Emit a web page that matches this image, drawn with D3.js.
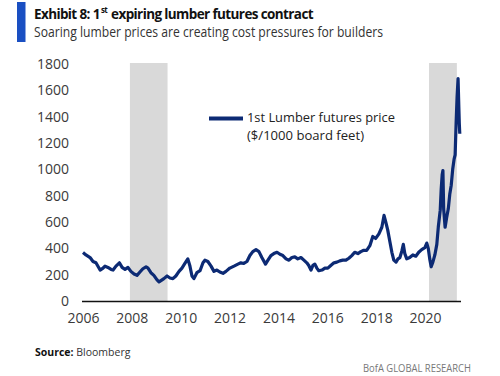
<!DOCTYPE html>
<html>
<head>
<meta charset="utf-8">
<script src="https://cdn.jsdelivr.net/npm/d3@7"></script>
<style>
  body { margin: 0; background: #fff; }
  text { font-family: "Open Sans", sans-serif; }
</style>
</head>
<body>
<div id="chart"></div>
<script>
/* DATA */
// decimal years, with 1st lumber futures price ($/1000 board feet)
const years = [
  2006.00, 2006.12, 2006.29, 2006.41, 2006.53, 2006.70, 2006.82, 2006.90, 2007.02, 2007.15,
  2007.23, 2007.35, 2007.49, 2007.60, 2007.72, 2007.84, 2007.96, 2008.09, 2008.21, 2008.33,
  2008.45, 2008.58, 2008.66, 2008.78, 2008.90, 2009.03, 2009.11, 2009.19, 2009.31, 2009.44,
  2009.56, 2009.68, 2009.80, 2009.93, 2010.05, 2010.17, 2010.29, 2010.37, 2010.46, 2010.54,
  2010.66, 2010.79, 2010.91, 2010.99, 2011.11, 2011.24, 2011.36, 2011.48, 2011.60, 2011.73,
  2011.85, 2012.01, 2012.18, 2012.34, 2012.46, 2012.58, 2012.71, 2012.83, 2012.95, 2013.08,
  2013.20, 2013.32, 2013.47, 2013.57, 2013.69, 2013.81, 2013.94, 2014.06, 2014.18, 2014.31,
  2014.43, 2014.55, 2014.67, 2014.79, 2014.92, 2015.04, 2015.16, 2015.24, 2015.33, 2015.41,
  2015.49, 2015.57, 2015.65, 2015.78, 2015.90, 2016.02, 2016.14, 2016.27, 2016.39, 2016.51,
  2016.63, 2016.76, 2016.88, 2017.00, 2017.12, 2017.25, 2017.37, 2017.49, 2017.61, 2017.74,
  2017.86, 2017.98, 2018.11, 2018.23, 2018.32, 2018.39, 2018.47, 2018.56, 2018.64, 2018.72,
  2018.81, 2018.89, 2018.97, 2019.05, 2019.11, 2019.17, 2019.25, 2019.37, 2019.50, 2019.62,
  2019.74, 2019.86, 2019.99, 2020.07, 2020.13, 2020.19, 2020.25, 2020.31, 2020.40, 2020.48,
  2020.54, 2020.62, 2020.66, 2020.70, 2020.73, 2020.76, 2020.82, 2020.88, 2020.95, 2021.01,
  2021.07, 2021.13, 2021.19, 2021.23, 2021.27, 2021.31, 2021.35, 2021.38, 2021.40, 2021.42
];
const prices = [
  368, 350, 330, 300, 290, 235, 250, 265, 255, 240,
  235, 265, 290, 255, 240, 255, 225, 205, 195, 220,
  245, 260, 250, 215, 195, 160, 145, 155, 170, 190,
  175, 170, 190, 225, 250, 285, 320, 270, 190, 170,
  215, 230, 290, 310, 300, 265, 225, 235, 220, 210,
  225, 250, 265, 280, 290, 285, 300, 345, 375, 390,
  375, 330, 280, 310, 345, 360, 370, 355, 345, 320,
  310, 330, 335, 320, 330, 310, 290, 270, 235, 270,
  280, 250, 230, 235, 250, 250, 270, 290, 295, 305,
  310, 310, 325, 345, 370, 360, 375, 385, 385, 420,
  490, 475, 510, 560, 650, 600, 540, 450, 370, 310,
  295, 320, 330, 380, 430, 360, 320, 330, 350, 340,
  370, 390, 405, 440, 400, 320, 260, 290, 350, 430,
  560, 690, 850, 960, 990, 700, 560, 630, 700, 810,
  880, 1000, 1080, 1110, 1350, 1550, 1690, 1480, 1350, 1270
];
// shaded periods (recession / pandemic)
const shadedStart = [2007.92, 2020.16];
const shadedEnd = [2009.46, 2021.30];
const xTicks = [2006, 2008, 2010, 2012, 2014, 2016, 2018, 2020];
const yTicks = [0, 200, 400, 600, 800, 1000, 1200, 1400, 1600, 1800];

const width = 500, height = 376;
const margin = { top: 64, bottom: 75, left: 83, right: 39 };

const data = years.map((y, i) => ({ year: y, price: prices[i] }));

const svg = d3.select("#chart").append("svg")
  .attr("width", width)
  .attr("height", height);

/* SCALES */
const xScale = d3.scaleLinear()
  .domain([2006, 2021.47])
  .range([margin.left, width - margin.right]);
const yScale = d3.scaleLinear()
  .domain([0, 1800])
  .range([height - margin.bottom, margin.top]);

/* HEADER */
svg.append("rect")
  .attr("x", 17).attr("y", 2)
  .attr("width", 8.5).attr("height", 40)
  .attr("fill", "#1a4fc2");

// title in three pieces so the superscript sits on its own; tightened with letter-spacing
const titleParts = [
  { t: "Exhibit 8: 1", size: 13.5, y: 19 },
  { t: "st", size: 8, y: 13 },
  { t: "expiring lumber futures contract", size: 13.5, y: 19 }
];
const gaps = [1, 4];
const titleTexts = titleParts.map(p => svg.append("text")
  .attr("y", p.y)
  .attr("font-size", p.size)
  .attr("font-weight", "bold")
  .attr("fill", "#111")
  .text(p.t));
const natural = titleTexts.map(t => t.node().getComputedTextLength());
const nChars = d3.sum(titleParts, p => p.t.length);
const spacing = (279 - d3.sum(gaps) - d3.sum(natural)) / nChars;
let tx = 34;
titleTexts.forEach((t, i) => {
  t.attr("x", tx).attr("letter-spacing", spacing);
  tx += t.node().getComputedTextLength() + (gaps[i] || 0);
});

svg.append("text")
  .attr("x", 34).attr("y", 37)
  .attr("font-size", 14)
  .attr("fill", "#333")
  .attr("textLength", 349)
  .attr("lengthAdjust", "spacingAndGlyphs")
  .text("Soaring lumber prices are creating cost pressures for builders");

/* SHADED PERIODS */
svg.selectAll(".shade")
  .data(shadedStart.map((s, i) => [s, shadedEnd[i]]))
  .join("rect")
  .attr("class", "shade")
  .attr("x", d => xScale(d[0]))
  .attr("width", d => xScale(d[1]) - xScale(d[0]))
  .attr("y", yScale(1800) - 1)
  .attr("height", yScale(0) - yScale(1800) + 1)
  .attr("fill", "#d9d9d9");

/* AXES */
const yAxis = d3.axisLeft(yScale).tickValues(yTicks).tickFormat(d3.format("d")).tickSize(0).tickPadding(14);
svg.append("g")
  .attr("transform", `translate(${margin.left}, 0)`)
  .call(yAxis)
  .call(g => g.select(".domain").remove())
  .call(g => g.selectAll("text")
    .attr("font-family", "Open Sans, sans-serif")
    .attr("font-size", 14)
    .attr("fill", "#3a3a3a"));

const xAxis = d3.axisBottom(xScale).tickValues(xTicks).tickFormat(d3.format("d")).tickSize(0).tickPadding(12);
svg.append("g")
  .attr("transform", `translate(0, ${yScale(0)})`)
  .call(xAxis)
  .call(g => g.select(".domain")
    .attr("stroke", "#111")
    .attr("stroke-width", 1.5)
    .attr("d", `M${xScale(2006) - 1},0.5H${xScale(2021.47)}`))
  .call(g => g.selectAll("text")
    .attr("font-family", "Open Sans, sans-serif")
    .attr("font-size", 14)
    .attr("fill", "#3a3a3a"));

/* LINE */
const lineGen = d3.line()
  .x(d => xScale(d.year))
  .y(d => yScale(d.price));

svg.append("path")
  .datum(data)
  .attr("fill", "none")
  .attr("stroke", "#0c2a74")
  .attr("stroke-width", 3.2)
  .attr("stroke-linejoin", "round")
  .attr("d", lineGen);

/* LEGEND */
svg.append("line")
  .attr("x1", 209).attr("x2", 243)
  .attr("y1", 118.5).attr("y2", 118.5)
  .attr("stroke", "#0c2a74")
  .attr("stroke-width", 4);
svg.append("text")
  .attr("x", 247).attr("y", 122)
  .attr("font-size", 13)
  .attr("fill", "#222")
  .attr("textLength", 148)
  .attr("lengthAdjust", "spacingAndGlyphs")
  .text("1st Lumber futures price");
svg.append("text")
  .attr("x", 247).attr("y", 140)
  .attr("font-size", 13)
  .attr("fill", "#222")
  .attr("textLength", 117)
  .attr("lengthAdjust", "spacingAndGlyphs")
  .text("($/1000 board feet)");

/* FOOTER */
svg.append("text")
  .attr("x", 35).attr("y", 356)
  .attr("font-size", 10.5)
  .attr("fill", "#333")
  .html('<tspan font-weight="bold" fill="#111">Source:</tspan> Bloomberg');
svg.append("text")
  .attr("x", 471).attr("y", 372)
  .attr("font-size", 11)
  .attr("text-anchor", "end")
  .attr("fill", "#777")
  .attr("textLength", 108)
  .attr("lengthAdjust", "spacingAndGlyphs")
  .text("BofA GLOBAL RESEARCH");
</script>
</body>
</html>
